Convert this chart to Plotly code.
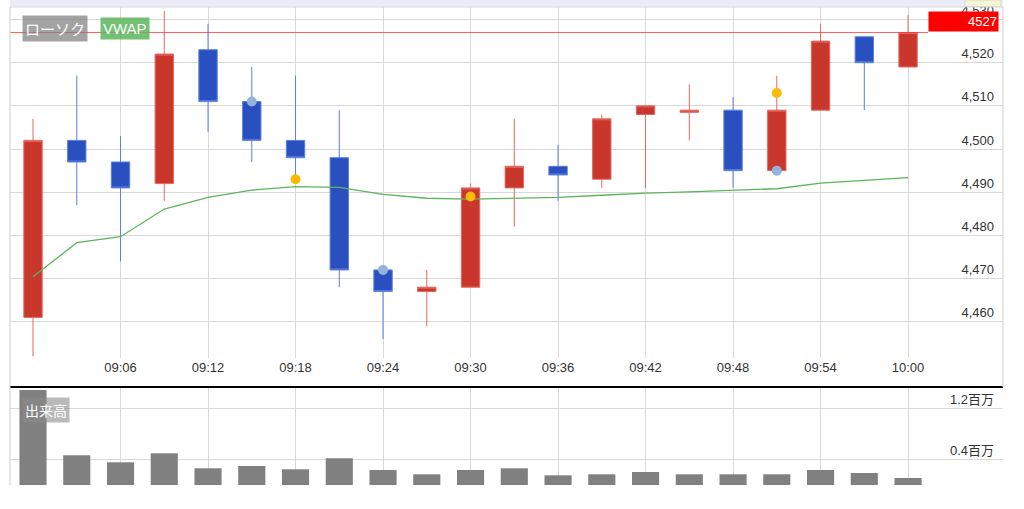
import plotly.graph_objects as go

# ---- data ----
times = ["09:00", "09:03", "09:06", "09:09", "09:12", "09:15", "09:18", "09:21", "09:24", "09:27",
         "09:30", "09:33", "09:36", "09:39", "09:42", "09:45", "09:48", "09:51", "09:54", "09:57", "10:00"]
open_ = [4461, 4502, 4497, 4492, 4523, 4511, 4502, 4498, 4472, 4467, 4468,
         4491, 4496, 4493, 4508, 4508.5, 4509, 4495, 4509, 4526, 4519]
high = [4507, 4517, 4503, 4532, 4529, 4519, 4517, 4509, 4472, 4472, 4492,
        4507, 4501, 4508, 4510, 4515, 4512, 4517, 4529, 4526, 4531]
low = [4452, 4487, 4474, 4488, 4504, 4497, 4493, 4468, 4456, 4459, 4468,
       4482, 4488, 4491, 4491, 4502, 4491, 4495, 4509, 4509, 4519]
close = [4502, 4497, 4491, 4522, 4511, 4502, 4498, 4472, 4467, 4468, 4491,
         4496, 4494, 4507, 4510, 4509, 4495, 4509, 4525, 4520, 4527]
vwap = [4470.4, 4478.3, 4479.7, 4486.1, 4488.8, 4490.5, 4491.3, 4491.1, 4489.5, 4488.6, 4488.4,
        4488.6, 4488.8, 4489.3, 4489.8, 4490.1, 4490.4, 4490.8, 4492.1, 4492.8, 4493.4]
volume_m = [1.49, 0.466, 0.356, 0.497, 0.262, 0.298, 0.246, 0.419, 0.235, 0.168, 0.235,
            0.262, 0.152, 0.168, 0.204, 0.168, 0.168, 0.168, 0.235, 0.188, 0.110]
sig_yellow_idx = [6, 10, 17]
sig_yellow_val = [4493, 4489, 4513]
sig_blue_idx = [5, 8, 17]
sig_blue_val = [4511, 4472, 4495]
price_ticks = [4460, 4470, 4480, 4490, 4500, 4510, 4520, 4530]
vol_ticks = [0.4, 1.2]
vol_tick_text = ["0.4百万", "1.2百万"]

idx = list(range(len(times)))
x_tick_idx = idx[2::2]
x_tick_text = times[2::2]

FONT = "Liberation Sans, Arial, Noto Sans CJK JP, sans-serif"
GRID = "#d9d9d9"

fig = go.Figure()
fig.add_trace(go.Candlestick(
    x=idx, open=open_, high=high, low=low, close=close,
    xaxis="x", yaxis="y", whiskerwidth=0,
    increasing=dict(fillcolor="#c9372c", line=dict(color="#e5685f", width=1)),
    decreasing=dict(fillcolor="#2a50c0", line=dict(color="#5a7fe0", width=1)),
    showlegend=False,
))
fig.add_trace(go.Scatter(
    x=idx, y=vwap, mode="lines", xaxis="x", yaxis="y",
    line=dict(color="#5cb55c", width=1.3), showlegend=False,
))
fig.add_trace(go.Scatter(
    x=sig_yellow_idx, y=sig_yellow_val, mode="markers", xaxis="x", yaxis="y",
    marker=dict(color="#fbbb04", size=10), showlegend=False,
))
fig.add_trace(go.Scatter(
    x=sig_blue_idx, y=sig_blue_val, mode="markers", xaxis="x", yaxis="y",
    marker=dict(color="#93b2dc", size=10), showlegend=False,
))
fig.add_trace(go.Bar(
    x=idx, y=volume_m, xaxis="x2", yaxis="y2",
    marker=dict(color="#808080", line=dict(width=0)), showlegend=False,
))

W, H = 1024, 509
L, R, T, B = 10, 21, 0, 24
PW, PH = W - L - R, H - T - B


def px_x(px):
    return (px - L) / PW


def px_y(py):
    return (PH - (py - T)) / PH


xr = [-0.526, 22.17]
fig.update_layout(
    width=W, height=H,
    margin=dict(l=L, r=R, t=T, b=B, autoexpand=False),
    paper_bgcolor="white", plot_bgcolor="white",
    font=dict(family=FONT, size=13, color="#333333"),
    boxgap=0.4, bargap=0.38,
    xaxis=dict(domain=[0, 1], range=xr, anchor="y", tickvals=x_tick_idx, ticktext=x_tick_text,
               showgrid=True, gridcolor=GRID, gridwidth=1, zeroline=False, showline=False, ticks="",
               automargin=False,
               rangeslider=dict(visible=False), tickfont=dict(size=13, color="#333")),
    yaxis=dict(domain=[px_y(358), px_y(7)], range=[4451.6, 4532.9], anchor="x", side="right",
               tickvals=price_ticks, tickformat=",d", ticklabelposition="inside top",
               ticklabeloverflow="allow", ticklabelstandoff=6, automargin=False,
               showgrid=True, gridcolor=GRID, zeroline=False,
               showline=False, ticks="", tickfont=dict(size=13, color="#333")),
    xaxis2=dict(domain=[0, 1], range=xr, anchor="y2", tickvals=x_tick_idx, showticklabels=False,
                showgrid=True, gridcolor=GRID, zeroline=False, showline=False, ticks="",
                automargin=False),
    yaxis2=dict(domain=[0, px_y(388)], range=[0, 1.52], anchor="x2", side="right",
                tickvals=vol_ticks, ticktext=vol_tick_text, ticklabelposition="inside top",
                ticklabeloverflow="allow", ticklabelstandoff=6, automargin=False,
                showgrid=True, gridcolor=GRID, zeroline=False,
                showline=False, ticks="", tickfont=dict(size=13, color="#333")),
)

shapes = [
    # top navigator strip
    dict(type="rect", xref="paper", yref="paper", x0=0, x1=1, y0=px_y(6.5), y1=1.0,
         fillcolor="#ececf8", line=dict(width=0), layer="above"),
    dict(type="rect", xref="paper", yref="paper", x0=px_x(965), x1=px_x(1001), y0=px_y(6.5), y1=1.0,
         fillcolor="#f5f5d8", line=dict(color="#dcdcb8", width=1), layer="above"),
    dict(type="line", xref="paper", yref="paper", x0=0, x1=1, y0=px_y(7), y1=px_y(7),
         line=dict(color="#d2d2dc", width=1), layer="above"),
    # current price line
    dict(type="line", xref="paper", yref="y", x0=0, x1=px_x(928), y0=close[-1], y1=close[-1],
         line=dict(color="rgba(255,40,40,0.75)", width=1), layer="above"),
    # panel separator
    dict(type="line", xref="paper", yref="paper", x0=0, x1=1, y0=px_y(387), y1=px_y(387),
         line=dict(color="black", width=2), layer="above"),
    # borders
    dict(type="line", xref="paper", yref="paper", x0=0, x1=0, y0=0, y1=px_y(7),
         line=dict(color="#cfcfcf", width=1), layer="above"),
    dict(type="line", xref="paper", yref="paper", x0=1, x1=1, y0=px_y(387), y1=px_y(7),
         line=dict(color="#cfcfcf", width=1), layer="above"),
]
fig.update_layout(shapes=shapes)

annotations = [
    dict(text="ローソク", xref="paper", yref="paper", x=px_x(22), y=px_y(28), xanchor="left",
         yanchor="middle", showarrow=False, bgcolor="rgba(128,128,128,0.72)", borderpad=2,
         font=dict(color="white", size=15, family="Noto Sans CJK JP")),
    dict(text="VWAP", xref="paper", yref="paper", x=px_x(100), y=px_y(28), xanchor="left",
         yanchor="middle", showarrow=False, bgcolor="rgba(92,181,92,0.85)", borderpad=2,
         font=dict(color="white", size=15, family=FONT)),
    dict(text="出来高", xref="paper", yref="paper", x=px_x(22), y=px_y(410), xanchor="left",
         yanchor="middle", showarrow=False, bgcolor="rgba(140,140,140,0.6)", borderpad=2,
         font=dict(color="white", size=14, family="Noto Sans CJK JP")),
    dict(text=str(close[-1]), xref="paper", yref="y", x=px_x(928), y=close[-1], xanchor="left",
         yanchor="bottom", showarrow=False, bgcolor="#ff0000", borderpad=1, width=67, height=17,
         align="right", font=dict(color="white", size=13, family=FONT)),
]
fig.update_layout(annotations=annotations)

fig.write_html("out.html", config={"displayModeBar": False},
               post_script="document.body.style.margin='0';document.body.style.overflow='hidden';")
